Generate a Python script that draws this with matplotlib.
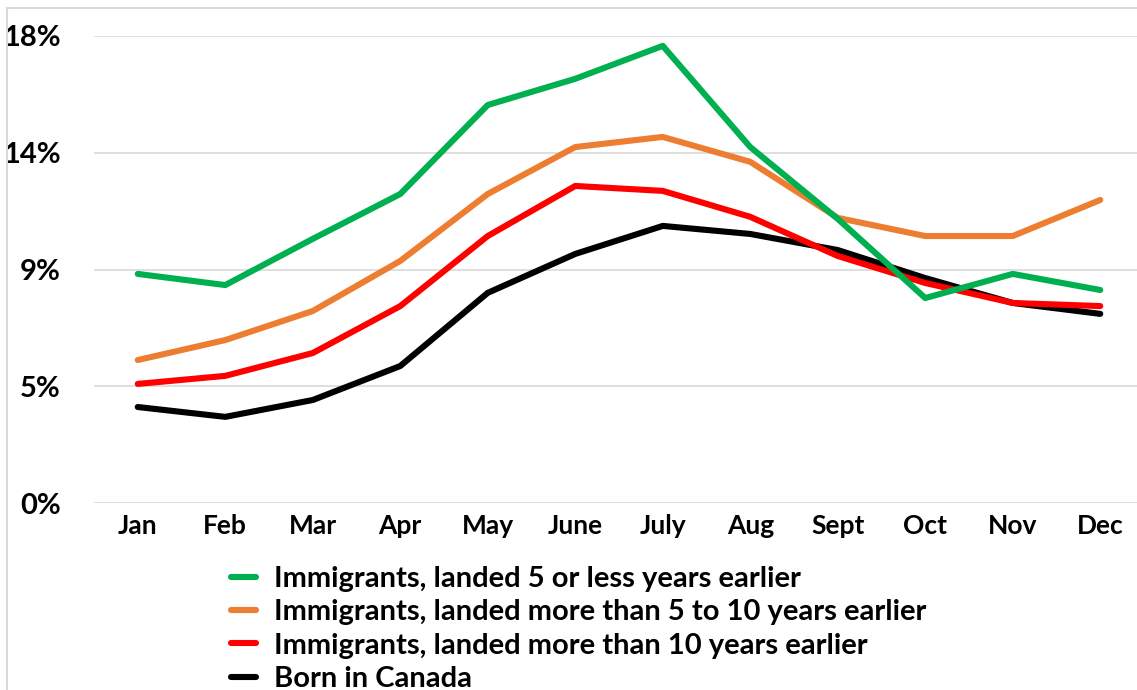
import matplotlib
matplotlib.use("Agg")
import matplotlib.pyplot as plt
from matplotlib.patches import Rectangle
from matplotlib.ticker import FuncFormatter

plt.rcParams["font.family"] = ["Lato", "DejaVu Sans"]
plt.rcParams["font.weight"] = "bold"

# data (percent)
months = ["Jan", "Feb", "Mar", "Apr", "May", "June", "July", "Aug", "Sept", "Oct", "Nov", "Dec"]
landed_5_or_less = [8.83, 8.40, 10.18, 11.91, 15.34, 16.35, 17.62, 13.72, 10.95, 7.90, 8.83, 8.21]
landed_5_to_10 = [5.51, 6.28, 7.40, 9.33, 11.91, 13.72, 14.11, 13.15, 10.99, 10.29, 10.29, 11.68]
landed_over_10 = [4.59, 4.90, 5.78, 7.59, 10.29, 12.22, 12.03, 11.03, 9.52, 8.48, 7.71, 7.59]
born_in_canada = [3.70, 3.32, 3.97, 5.28, 8.10, 9.60, 10.68, 10.37, 9.75, 8.67, 7.71, 7.29]

labels = [
    "Immigrants, landed 5 or less years earlier",
    "Immigrants, landed more than 5 to 10 years earlier",
    "Immigrants, landed more than 10 years earlier",
    "Born in Canada",
]
colors = ["#00B050", "#ED7D31", "#FF0000", "#000000"]
series = [landed_5_or_less, landed_5_to_10, landed_over_10, born_in_canada]
y_ticks = [0, 4.5, 9, 13.5, 18]

fig = plt.figure(figsize=(11.37, 6.9), dpi=100)
ax = fig.add_axes([94 / 1137, 1 - 503 / 690, 1050 / 1137, 467 / 690])

# outer chart border (partly cut off like the reference)
fig.patches.append(Rectangle((7 / 1137, -0.1), 1.2, 1.1 - 8 / 690,
                             transform=fig.transFigure, fill=False,
                             edgecolor="#D9D9D9", linewidth=1.5))

x = list(range(len(months)))
handles = []
for vals, col, lab, z in zip(series, colors, labels, [5, 4, 3, 2]):
    h, = ax.plot(x, vals, color=col, linewidth=4.4, label=lab, zorder=z,
                 solid_capstyle="round", solid_joinstyle="round")
    handles.append(h)

ax.set_xlim(-0.5, len(months) - 0.5)
ax.set_ylim(0, 18)
ax.set_yticks(y_ticks)
# excel style rounding: 4.5 -> 5%, 13.5 -> 14%
ax.yaxis.set_major_formatter(FuncFormatter(lambda v, p: f"{int(v + 0.5)}%"))
ax.set_xticks(x)
ax.set_xticklabels(months)
ax.grid(axis="y", color="#D9D9D9", linewidth=1.2)
ax.set_axisbelow(True)
for s in ax.spines.values():
    s.set_visible(False)
ax.tick_params(axis="both", length=0)
ax.tick_params(axis="y", labelsize=21, pad=24)
ax.tick_params(axis="x", labelsize=19, pad=8)

fig.legend(handles=handles, labels=labels, loc="upper left",
           bbox_to_anchor=(231 / 1137, 1 - 566 / 690), frameon=False,
           fontsize=21, handlelength=0.85, handletextpad=0.62,
           labelspacing=0.25, borderpad=0, borderaxespad=0)

fig.savefig("out.png", dpi=100)
